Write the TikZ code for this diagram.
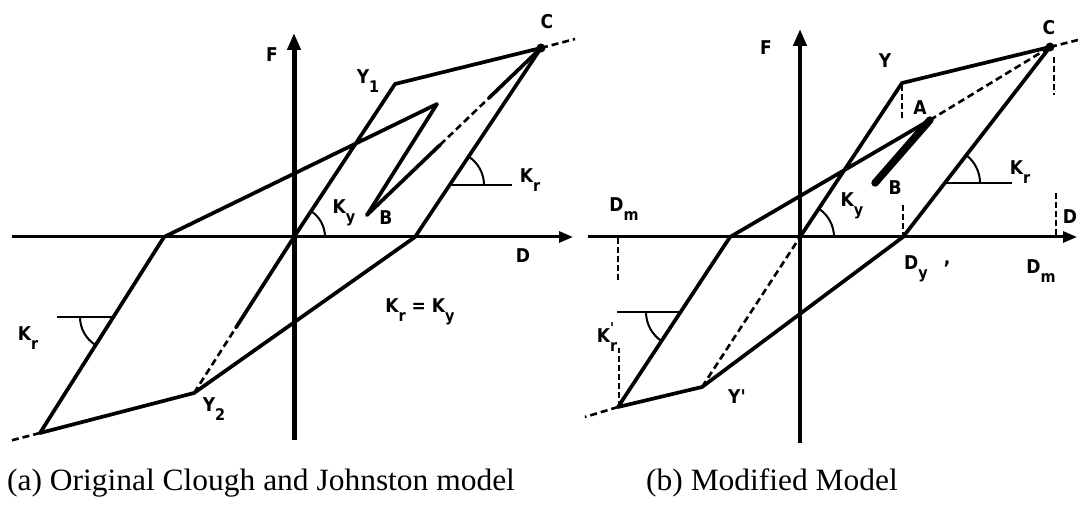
\documentclass[tikz,border=0pt]{standalone}
\usepackage{fontspec}
\setmainfont{Liberation Serif}
\newfontfamily\lblfont{DejaVu Sans Condensed}
\usetikzlibrary{arrows.meta,calc}
\newcommand\sbs[1]{\raisebox{-0.45em}{\fontsize{16}{16}\selectfont #1}}
\newcommand\prm{\makebox[0pt][l]{\raisebox{0.5em}{\fontsize{15}{15}\selectfont '}}}
\begin{document}
\begin{tikzpicture}[x=1pt,y=1pt,
  ln/.style={line width=3.7pt,line cap=round,line join=round},
  dl/.style={line width=2.6pt,dash pattern=on 7pt off 4pt},
  vd/.style={line width=2pt,dash pattern=on 6pt off 3pt},
  tn/.style={line width=2pt},
  ax/.style={line width=3pt,-{Triangle[length=14pt,width=11pt]}},
  fax/.style={line width=5pt,-{Triangle[length=17pt,width=13pt]}},
  lb/.style={font=\lblfont\bfseries\fontsize{19}{19}\selectfont, inner sep=0pt},
  capt/.style={font=\fontsize{31}{31}\selectfont, inner sep=0pt, anchor=base west, xscale=1.015}]
\useasboundingbox (0,0) rectangle (1078,506);

% ---------------- left panel ----------------
\coordinate (D1s) at (12,269); \coordinate (D1e) at (573,269);
\coordinate (F1s) at (294,66);  \coordinate (F1e) at (294,473);
\coordinate (O1) at (294,269);
\coordinate (Y1) at (395,422);
\coordinate (C1) at (541,458);
\coordinate (C1x) at (575,467);
\coordinate (R1) at (415,269);
\coordinate (Y2) at (194,113);
\coordinate (N1) at (40,73);
\coordinate (N1x) at (9,65);
\coordinate (L1) at (164,269);
\coordinate (P1) at (437,402);
\coordinate (B1) at (367,291);
\coordinate (KrA) at (450,321); \coordinate (KrB) at (512,321);
\coordinate (KlA) at (113,189); \coordinate (KlB) at (57,189);

\draw[ax] (D1s) -- (D1e);
\draw[fax] (F1s) -- (F1e);
\draw[ln] (O1) -- (Y1) -- (C1) -- (R1) -- (Y2) -- (N1) -- (L1) -- (P1) -- (B1);
\draw[ln] (B1) -- ($(B1)!0.42!(C1)$);
\draw[dl] ($(B1)!0.42!(C1)$) -- ($(B1)!0.7!(C1)$);
\draw[ln] ($(B1)!0.7!(C1)$) -- (C1);
\draw[dl] (Y2) -- ($(Y2)!0.42!(O1)$);
\draw[ln] ($(Y2)!0.42!(O1)$) -- (O1);
\draw[dl] (N1) -- (N1x);
\draw[dl] (C1) -- (C1x);
\fill (C1) circle (4.5);
\draw[tn] (O1) ++(31,0) arc[start angle=0,end angle=56.6,radius=31];
\draw[tn] (KrA) -- (KrB);
\draw[tn] (KrA) ++(34,0) arc[start angle=0,end angle=56.3,radius=34];
\draw[tn] (KlB) -- (KlA);
\draw[tn] (KlA) ++(-33,0) arc[start angle=180,end angle=237.7,radius=33];

\node[lb] (lF1) at (272,451) {F};
\node[lb] (lD1) at (523,250) {D};
\node[lb] (lY1) at (368,425) {Y\sbs{1}};
\node[lb] (lC1) at (547,484) {C};
\node[lb] (lKy1) at (344,293) {K\sbs{y}};
\node[lb] (lB1) at (386,288) {B};
\node[lb] (lKr1) at (530,326) {K\sbs{r}};
\node[lb] (lKr2) at (28,168) {K\sbs{r}};
\node[lb] (lKrKy) at (420,194) {K\sbs{r} = K\sbs{y}};
\node[lb] (lY2) at (214,97) {Y\sbs{2}};

% ---------------- right panel ----------------
\coordinate (D2s) at (588,269); \coordinate (D2e) at (1077,269);
\coordinate (F2s) at (800,63);  \coordinate (F2e) at (800,477);
\coordinate (O2) at (800,269);
\coordinate (Yc) at (902,423);
\coordinate (C2) at (1050,459);
\coordinate (C2x) at (1078,466);
\coordinate (Dy) at (903,269);
\coordinate (Yp) at (702,119);
\coordinate (N2) at (618,99);
\coordinate (N2x) at (585,89);
\coordinate (L2) at (730,269);
\coordinate (A) at (930,386);
\coordinate (B2) at (875,323);
\coordinate (KsA) at (945,323); \coordinate (KsB) at (1012,323);
\coordinate (KpA) at (681,194); \coordinate (KpB) at (617,194);

\draw[ax] (D2s) -- (D2e);
\draw[fax,line width=4.2pt] (F2s) -- (F2e);
\draw[ln] (O2) -- (Yc) -- (C2) -- (Dy) -- (Yp) -- (N2) -- (L2) -- (A);
\draw[dl] (A) -- (C2);
\draw[dl] (Yp) -- (O2);
\draw[dl] (N2) -- (N2x);
\draw[dl] (C2) -- (C2x);
\draw[line width=7.5pt,line cap=round] (B2) -- (A);
\fill (C2) circle (4.5);
\draw[vd] (902,421) -- (902,386);
\draw[vd] (1054,449) -- (1054,411);
\draw[vd] (1056,313) -- (1056,269);
\draw[vd] (903,301) -- (903,269);
\draw[vd] (619,99) -- (619,158);
\draw[vd] (618,268) -- (618,224);
\draw[tn] (O2) ++(34,0) arc[start angle=0,end angle=56.5,radius=34];
\draw[tn] (KsA) -- (KsB);
\draw[tn] (KsA) ++(35,0) arc[start angle=0,end angle=52.3,radius=35];
\draw[tn] (KpB) -- (KpA);
\draw[tn] (KpA) ++(-35,0) arc[start angle=180,end angle=236.6,radius=35];

\node[lb] (lF2) at (766,458) {F};
\node[lb] (lY) at (885,445) {Y};
\node[lb] (lC2) at (1049,478) {C};
\node[lb] (lA) at (920,398) {A};
\node[lb] (lB2) at (895,318) {B};
\node[lb] (lKy2) at (852,300) {K\sbs{y}};
\node[lb] (lKr3) at (1020,334) {K\sbs{r}};
\node[lb] (lD2) at (1070,289) {D};
\node[lb] (lDm1) at (624,297) {D\sbs{m}};
\node[lb] (lDy) at (916,237) {D\sbs{y}};
\node[lb] (lcm) at (947,242) {,};
\node[lb] (lDm2) at (1041,235) {D\sbs{m}};
\node[lb] (lYp) at (737,109) {Y'};
\node[lb] (lKrp) at (607,169) {K\prm\sbs{r}};

% captions
\node[capt] (capa) at (7,15.5) {(a) Original Clough and Johnston model};
\node[capt] (capb) at (646,15.5) {(b) Modified Model};
\end{tikzpicture}
\end{document}
